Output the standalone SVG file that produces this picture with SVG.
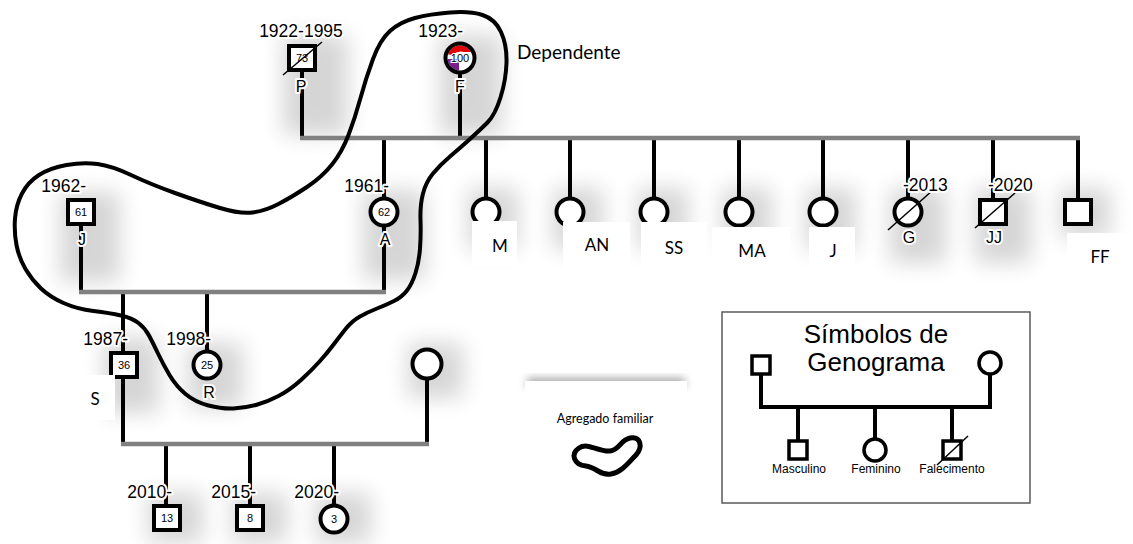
<svg xmlns="http://www.w3.org/2000/svg" width="1133" height="544" viewBox="0 0 1133 544">
<defs>
<filter id="blur" x="-60%" y="-60%" width="220%" height="220%"><feGaussianBlur stdDeviation="11"/></filter>
<filter id="blur2" x="-20%" y="-50%" width="140%" height="200%"><feGaussianBlur stdDeviation="4"/></filter>
<clipPath id="fclip"><circle cx="460" cy="58" r="12.5"/></clipPath>
<style>
.ln{stroke:#000;stroke-width:4;fill:none}
.bar{stroke:#808080;stroke-width:4.5;fill:none}
.nd{fill:#fff;stroke:#000;stroke-width:4}
.lg{fill:#fff;stroke:#000;stroke-width:3.5}
.sl{stroke:#000;stroke-width:1.5}
.age{font-family:"Liberation Sans",Arial,sans-serif;font-size:11px;text-anchor:middle;fill:#000}
.yr{font-family:"Liberation Sans",Arial,sans-serif;font-size:17.5px;fill:#000;paint-order:stroke;stroke:#fff;stroke-width:4;stroke-linejoin:round}
.nm{font-family:"Liberation Sans",Arial,sans-serif;font-size:16px;text-anchor:middle;fill:#000;paint-order:stroke;stroke:#fff;stroke-width:4;stroke-linejoin:round}
.lb{font-family:Lato,"Open Sans",sans-serif;font-size:17px;text-anchor:middle;fill:#000}
.box{fill:#fff}
.sh{fill:#000;opacity:.16;filter:url(#blur)}
.leg{font-family:"Liberation Sans",Arial,sans-serif;fill:#000;text-anchor:middle}
</style>
</defs>
<rect width="1133" height="544" fill="#fff"/>
<g id="shadows">
<rect class="sh" x="283" y="35" width="65" height="100"/>
<rect class="sh" x="440" y="35" width="62" height="100"/>
<rect class="sh" x="60" y="192" width="60" height="90"/>
<rect class="sh" x="363" y="190" width="62" height="90"/>
<rect class="sh" x="468" y="188" width="50" height="62"/>
<rect class="sh" x="553" y="188" width="50" height="62"/>
<rect class="sh" x="638" y="188" width="50" height="62"/>
<rect class="sh" x="722" y="188" width="50" height="62"/>
<rect class="sh" x="806" y="188" width="50" height="62"/>
<rect class="sh" x="890" y="188" width="56" height="75"/>
<rect class="sh" x="975" y="188" width="56" height="75"/>
<rect class="sh" x="1060" y="188" width="50" height="50"/>
<rect class="sh" x="104" y="338" width="55" height="75"/>
<rect class="sh" x="188" y="343" width="55" height="65"/>
<rect class="sh" x="408" y="343" width="55" height="55"/>
<rect class="sh" x="148" y="493" width="55" height="50"/>
<rect class="sh" x="232" y="493" width="55" height="50"/>
<rect class="sh" x="316" y="493" width="55" height="50"/>
</g>
<g id="connectors">
<line class="ln" x1="302" y1="70" x2="302" y2="138"/>
<line class="ln" x1="460" y1="72" x2="460" y2="138"/>
<line class="ln" x1="486" y1="138" x2="486" y2="200"/>
<line class="ln" x1="570" y1="138" x2="570" y2="200"/>
<line class="ln" x1="654" y1="138" x2="654" y2="200"/>
<line class="ln" x1="739" y1="138" x2="739" y2="200"/>
<line class="ln" x1="823" y1="138" x2="823" y2="200"/>
<line class="ln" x1="908" y1="138" x2="908" y2="200"/>
<line class="ln" x1="993" y1="138" x2="993" y2="200"/>
<line class="ln" x1="1078" y1="138" x2="1078" y2="200"/>
<line class="ln" x1="384" y1="138" x2="384" y2="292"/>
<line class="ln" x1="81" y1="224" x2="81" y2="292"/>
<line class="ln" x1="123" y1="292" x2="123" y2="444"/>
<line class="ln" x1="207" y1="292" x2="207" y2="351"/>
<line class="ln" x1="427" y1="378" x2="427" y2="444"/>
<line class="ln" x1="166" y1="444" x2="166" y2="506"/>
<line class="ln" x1="250" y1="444" x2="250" y2="506"/>
<line class="ln" x1="334" y1="444" x2="334" y2="506"/>
<line class="bar" x1="300" y1="138" x2="1080" y2="138"/>
<line class="bar" x1="79" y1="292" x2="386" y2="292"/>
<line class="bar" x1="121" y1="444" x2="429" y2="444"/>
</g>
<g id="node-P">
<rect class="nd" x="289" y="46" width="26" height="24"/>
<text class="age" x="302" y="62">73</text>
<line class="sl" x1="283" y1="75" x2="322" y2="42"/>
<text class="yr" x="301" y="37" text-anchor="middle">1922-1995</text>
<text class="nm" x="301" y="92">P</text>
</g>
<g id="node-F">
<circle cx="460" cy="58" r="14.5" fill="#fff"/>
<g clip-path="url(#fclip)">
<path d="M446 54 Q452 44 462 45 Q470 46 472 52 L464 52 Q458 50 452 55 Z" fill="#e30000"/>
<rect x="444" y="59" width="15" height="16" fill="#7b1f8e"/>
</g>
<circle cx="460" cy="58" r="14.5" fill="none" stroke="#000" stroke-width="4"/>
<text class="age" x="460" y="62" font-size="12" style="paint-order:stroke;stroke:#fff;stroke-width:2">100</text>
<text class="yr" x="463" y="37" text-anchor="end">1923-</text>
<text class="nm" x="460" y="92">F</text>
</g>
<g id="node-J1">
<rect class="nd" x="68" y="200" width="26" height="24"/>
<text class="age" x="81" y="216">61</text>
<text class="yr" x="86" y="192" text-anchor="end">1962-</text>
<text class="nm" x="82" y="245">J</text>
</g>
<g id="node-A">
<circle class="nd" cx="384" cy="212" r="13.5"/>
<text class="age" x="384" y="216">62</text>
<text class="yr" x="389" y="192" text-anchor="end">1961-</text>
<text class="nm" x="385" y="245">A</text>
</g>
<g id="node-M">
<circle class="nd" cx="486" cy="212" r="13.5"/>
<rect class="box" x="472" y="221" width="45" height="46"/>
<text class="lb" x="500" y="252">M</text>
</g>
<g id="node-AN">
<circle class="nd" cx="570" cy="212" r="13.5"/>
<rect class="box" x="563" y="222" width="67" height="47"/>
<text class="lb" x="597" y="251">AN</text>
</g>
<g id="node-SS">
<circle class="nd" cx="654" cy="212" r="13.5"/>
<rect class="box" x="641" y="222" width="66" height="46"/>
<text class="lb" x="674" y="254">SS</text>
</g>
<g id="node-MA">
<circle class="nd" cx="739" cy="212" r="13.5"/>
<rect class="box" x="712" y="227" width="78" height="44"/>
<text class="lb" x="752" y="257">MA</text>
</g>
<g id="node-J2">
<circle class="nd" cx="823" cy="212" r="13.5"/>
<rect class="box" x="809" y="227" width="46" height="44"/>
<text class="lb" x="833" y="257">J</text>
</g>
<g id="node-G">
<circle class="nd" cx="908" cy="212" r="13.5"/>
<line class="sl" x1="888" y1="230" x2="933" y2="190"/>
<text class="yr" x="903" y="191">-2013</text>
<text class="nm" x="909" y="243">G</text>
</g>
<g id="node-JJ">
<rect class="nd" x="980" y="200" width="26" height="24"/>
<line class="sl" x1="975" y1="228" x2="1015" y2="193"/>
<text class="yr" x="988" y="191">-2020</text>
<text class="nm" x="994" y="243">JJ</text>
</g>
<g id="node-FF">
<rect class="nd" x="1065" y="200" width="26" height="24"/>
<rect class="box" x="1067" y="233" width="66" height="50"/>
<text class="lb" x="1100" y="263">FF</text>
</g>
<g id="node-S">
<rect class="nd" x="111" y="353" width="26" height="24"/>
<text class="age" x="124" y="369">36</text>
<text class="yr" x="128" y="345" text-anchor="end">1987-</text>
<rect class="box" x="66" y="375" width="49" height="45"/>
<text class="lb" x="95" y="405">S</text>
</g>
<g id="node-R">
<circle class="nd" cx="207" cy="365" r="13.5"/>
<text class="age" x="207" y="369">25</text>
<text class="yr" x="211" y="345" text-anchor="end">1998-</text>
<text class="nm" x="209" y="398">R</text>
</g>
<g id="node-spouse">
<circle class="nd" cx="427" cy="364" r="14.5"/>
</g>
<g id="node-13">
<rect class="nd" x="154" y="506" width="26" height="24"/>
<text class="age" x="167" y="522">13</text>
<text class="yr" x="172" y="498" text-anchor="end">2010-</text>
</g>
<g id="node-8">
<rect class="nd" x="237" y="506" width="26" height="24"/>
<text class="age" x="250" y="522">8</text>
<text class="yr" x="256" y="498" text-anchor="end">2015-</text>
</g>
<g id="node-3">
<circle class="nd" cx="334" cy="519" r="13.5"/>
<text class="age" x="334" y="523">3</text>
<text class="yr" x="339" y="498" text-anchor="end">2020-</text>
</g>
<g id="agregado-loop">
<path d="M121 315.5 Q110 313 93.5 311 Q77 309 63.5 303 Q50 297 41 288.5 Q32 280 25.5 269 Q19 258 16.5 245 Q14 232 15 218.5 Q16 205 22 193.5 Q28 182 39 175 Q50 168 66.5 165 Q83 162 97.5 164 Q112 166 131 175 Q150 184 175 193 Q200 202 220 208 Q240 214 252.5 212.5 Q265 211 278.5 204 Q292 197 307 187 Q322 177 332 164.5 Q342 152 348.5 135 Q355 118 360.5 98 Q366 78 373 59 Q380 40 390 31 Q400 22 415 18 Q430 14 450 12.5 Q470 11 482.5 15 Q495 19 501 32 Q507 45 506.5 62.5 Q506 80 500.5 97.5 Q495 115 487.5 122.5 Q480 130 470 139 Q460 148 450 156.5 Q440 165 433 173.5 Q426 182 423 193.5 Q420 205 420.5 220 Q421 235 420 248.5 Q419 262 415.5 273 Q412 284 407 290.5 Q402 297 394 301 Q386 305 377 308.5 Q368 312 360 316.5 Q352 321 346 328.5 Q340 336 334 344 Q328 352 320 361 Q312 370 301 380 Q290 390 278.5 396 Q267 402 256 405 Q245 408 233.5 408.5 Q222 409 208.5 405.5 Q195 402 185.5 394 Q176 386 169.5 375 Q163 364 158 353.5 Q153 343 149 335.5 Q145 328 138.5 323 Q132 318 121 315.5 Z" fill="none" stroke="#000" stroke-width="4"/>
</g>
<g id="dependente">
<text x="517" y="59" font-family="Lato,'Open Sans',sans-serif" font-size="19" fill="#000">Dependente</text>
</g>
<g id="agregado-box">
<rect x="527" y="378" width="158" height="10" fill="#000" opacity=".35" filter="url(#blur2)"/>
<rect x="525" y="381" width="162" height="111" fill="#fff"/>
<text x="605" y="423" font-family="Lato,'Open Sans',sans-serif" font-size="12.5" text-anchor="middle" fill="#000">Agregado familiar</text>
<path d="M579 448 C588 442 598 452 610 451 C620 450 620 440 630 438 C641 436 643 447 636 455 C629 462 622 472 611 474 C600 476 596 467 586 466 C574 465 570 454 579 448 Z" fill="none" stroke="#000" stroke-width="5" stroke-linejoin="round"/>
</g>
<g id="legend">
<rect x="722" y="312" width="308" height="191" fill="#fff" stroke="#595959" stroke-width="1.5"/>
<text class="leg" x="876" y="343" font-size="26">Símbolos de</text>
<text class="leg" x="876" y="371" font-size="26">Genograma</text>
<line class="ln" x1="761" y1="374" x2="761" y2="407"/>
<line class="ln" x1="990" y1="374" x2="990" y2="407"/>
<line class="ln" x1="759" y1="407" x2="992" y2="407"/>
<line class="ln" x1="798" y1="407" x2="798" y2="441"/>
<line class="ln" x1="875" y1="407" x2="875" y2="440"/>
<line class="ln" x1="952" y1="407" x2="952" y2="441"/>
<rect class="lg" x="752" y="356" width="18" height="18"/>
<circle class="lg" cx="990" cy="363" r="11"/>
<rect class="lg" x="789" y="441" width="18" height="18"/>
<circle class="lg" cx="875" cy="450" r="11"/>
<rect class="lg" x="943" y="441" width="18" height="18"/>
<line class="sl" x1="937" y1="465" x2="968" y2="436"/>
<text class="leg" x="799" y="473" font-size="12">Masculino</text>
<text class="leg" x="876" y="473" font-size="12">Feminino</text>
<text class="leg" x="952" y="473" font-size="12">Falecimento</text>
</g>
</svg>
